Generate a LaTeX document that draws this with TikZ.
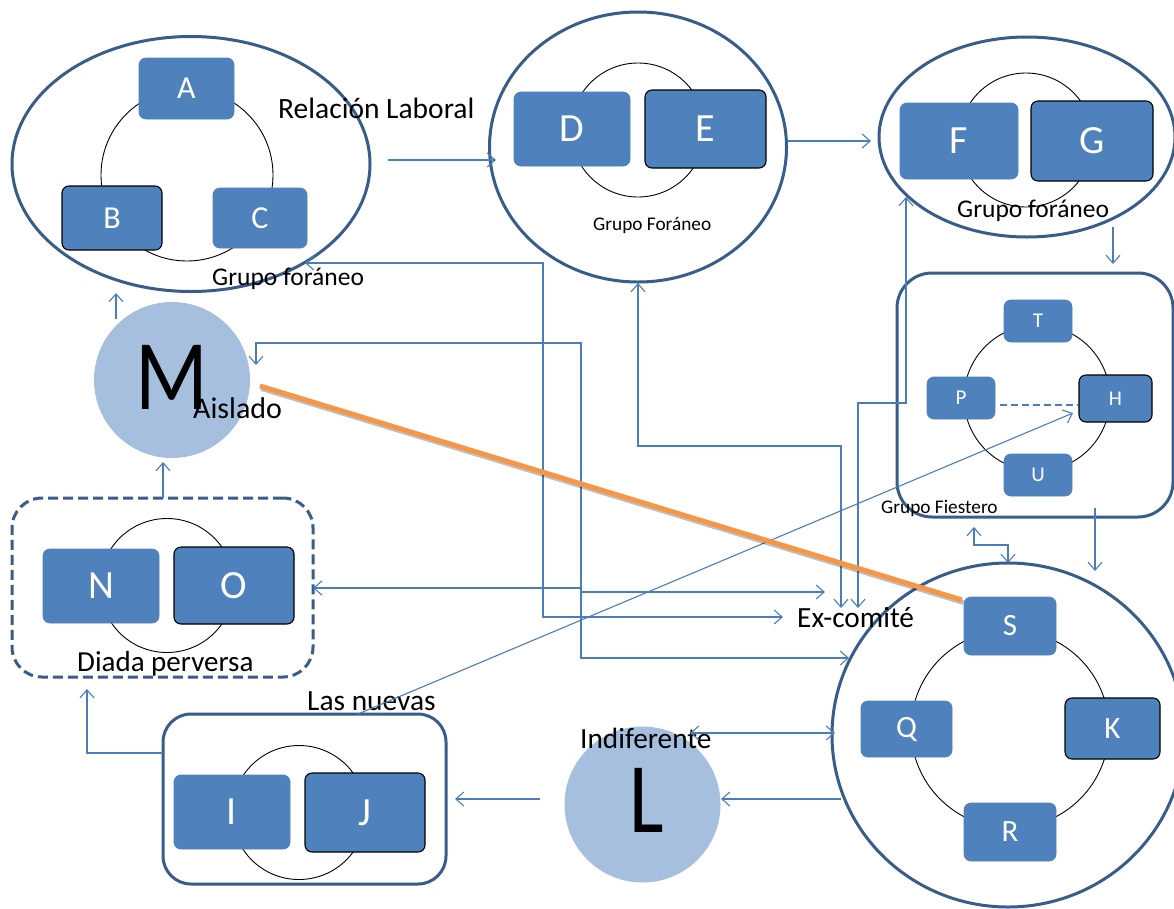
\documentclass[tikz,border=0pt]{standalone}
\usepackage{fontspec}
\usepackage{graphicx}
\setmainfont{Carlito}
\usetikzlibrary{arrows.meta,shapes.geometric}
\definecolor{boxblue}{RGB}{79,129,189}
\definecolor{darkborder}{RGB}{56,93,138}
\definecolor{linkblue}{RGB}{74,126,187}
\definecolor{paleblue}{RGB}{167,191,222}
\definecolor{orangeline}{RGB}{247,150,70}
\newcommand\myfs[1]{\fontsize{#1}{#1}\selectfont}
\tikzset{
  member/.style={draw=boxblue, fill=boxblue, rounded corners=7pt, text=white, inner sep=0pt, line width=0.8pt},
  memberb/.style={member, draw=black, line width=1.1pt},
  container/.style={draw=darkborder, line width=3pt, fill=white, inner sep=0pt},
  ring/.style={draw=black, line width=0.9pt},
  link/.style={draw=linkblue, line width=1.1pt, -{Straight Barb[length=8pt,width=14pt]}},
  dlink/.style={draw=linkblue, line width=1.1pt, {Straight Barb[length=8pt,width=14pt]}-{Straight Barb[length=8pt,width=14pt]}},
  lbl/.style={anchor=base west, inner sep=0pt, text=black},
  single/.style={fill=paleblue, circle, inner sep=0pt},
}
\begin{document}
\begin{tikzpicture}[x=1pt,y=-1pt]
\useasboundingbox (0,0) rectangle (1174,908);
\fill[white] (0,0) rectangle (1174,908);

% ---------- containers ----------
\node[container, ellipse, minimum width=358pt, minimum height=255pt] (gABC) at (191,164) {};
\node[container, ellipse, minimum width=297pt, minimum height=270pt] (gDE) at (638,147) {};
\node[container, ellipse, minimum width=296pt, minimum height=200pt] (gFG) at (1027,137) {};
\node[container, rounded corners=35pt, minimum width=276pt, minimum height=244pt] (gFi) at (1035,395) {};
\node[container, ellipse, minimum width=352pt, minimum height=344pt] (gS) at (1008,735) {};
\node[container, rounded corners=30pt, dash pattern=on 10pt off 5pt, minimum width=301pt, minimum height=179pt] (gNO) at (162.5,587.5) {};
\node[container, rounded corners=28pt, minimum width=283pt, minimum height=170pt] (gIJ) at (304.5,799) {};

% ---------- singles ----------
\node[single, minimum size=156pt] (cM) at (172,380) {};
\node[single, minimum size=156pt] (cL) at (642.5,804.5) {};

% ---------- rings ----------
\draw[ring] (187,175) circle[radius=86pt];
\draw[ring] (638,130) circle[radius=67pt];
\draw[ring] (1026,140) circle[radius=67pt];
\draw[ring] (1037,398) circle[radius=73pt];
\draw[ring] (1010,729) circle[radius=99pt];
\draw[ring] (167,585.5) circle[radius=67pt];
\draw[ring] (299,812.5) circle[radius=67pt];

% ---------- members ----------
\node[member,  minimum width=95pt,  minimum height=61pt, font=\myfs{32}] (A) at (186.5,88.5) {A};
\node[memberb, minimum width=100pt, minimum height=64pt, font=\myfs{32}] (B) at (112,218) {B};
\node[member,  minimum width=94pt,  minimum height=60pt, font=\myfs{32}] (C) at (260,218) {C};

\node[member,  minimum width=116pt, minimum height=74pt, font=\myfs{40}] (D) at (572,129) {D};
\node[memberb, minimum width=121pt, minimum height=78pt, font=\myfs{40}] (E) at (705.5,129) {E};

\node[member,  minimum width=118pt, minimum height=76pt, font=\myfs{40}] (F) at (959,141) {F};
\node[memberb, minimum width=122pt, minimum height=80pt, font=\myfs{40}] (G) at (1092,141) {G};

\node[member,  minimum width=68pt, minimum height=42pt, font=\myfs{21}] (T) at (1038,321) {T};
\node[member,  minimum width=68pt, minimum height=42pt, font=\myfs{21}] (P) at (961,398) {P};
\node[memberb, minimum width=73pt, minimum height=47pt, font=\myfs{21}] (H) at (1115.5,398.5) {H};
\node[member,  minimum width=68pt, minimum height=42pt, font=\myfs{21}] (U) at (1038,475) {U};

\node[member,  minimum width=92pt, minimum height=58pt, font=\myfs{31}] (S) at (1010,626) {S};
\node[member,  minimum width=91pt, minimum height=56pt, font=\myfs{31}] (Q) at (906.5,729) {Q};
\node[memberb, minimum width=95pt, minimum height=61pt, font=\myfs{31}] (K) at (1112.5,728.5) {K};
\node[member,  minimum width=92pt, minimum height=58pt, font=\myfs{31}] (R) at (1010,832) {R};

\node[member,  minimum width=116pt, minimum height=74pt, font=\myfs{40}] (N) at (101,586) {N};
\node[memberb, minimum width=120pt, minimum height=77pt, font=\myfs{40}] (O) at (234,585.5) {O};

\node[member,  minimum width=116pt, minimum height=74pt, font=\myfs{40}] (I) at (232,812) {I};
\node[memberb, minimum width=120pt, minimum height=79pt, font=\myfs{40}] (J) at (365,812.5) {J};

% ---------- big letters ----------
\node[inner sep=0pt, font=\myfs{100}] (Mletter) at (171.5,377.5) {\scalebox{0.85}[1]{M}};
\node[inner sep=0pt, font=\myfs{100}] (Lletter) at (647,800.5) {\scalebox{0.82}[1]{L}};

% ---------- labels ----------
\node[lbl, font=\myfs{29.5}] (tRel) at (278,118) {Relación Laboral};
\node[lbl, font=\myfs{25.5}] (tGf1) at (212,285) {Grupo foráneo};
\node[lbl, font=\myfs{19.3}] (tGf2) at (593,230) {Grupo Foráneo};
\node[lbl, font=\myfs{25.5}] (tGf3) at (957,217) {Grupo foráneo};
\node[lbl, font=\myfs{19.3}] (tFi) at (881,513) {Grupo Fiestero};
\node[lbl, font=\myfs{30}] (tAis) at (193,418) {Aislado};
\node[lbl, font=\myfs{29}] (tDia) at (77,671) {Diada perversa};
\node[lbl, font=\myfs{29.4}] (tNue) at (307,710) {Las nuevas};
\node[lbl, font=\myfs{29.3}] (tInd) at (580,748) {Indiferente};
\node[lbl, font=\myfs{29.3}] (tEx) at (797,627) {Ex-comité};

% ---------- connector coordinates ----------
\coordinate (r1) at (388,160);   \coordinate (r2) at (496,160);
\coordinate (d1) at (787,141);   \coordinate (d2) at (871,141);
\coordinate (f1) at (1113,227);  \coordinate (f2) at (1113,264);
\coordinate (p1) at (1095,508);  \coordinate (p2) at (1095,571);
\coordinate (s1) at (974,527);   \coordinate (s2) at (1008,563);
\coordinate (n1) at (358,714);   \coordinate (n2) at (1073,413);
\coordinate (a1) at (305,263);   \coordinate (a2) at (783,617);
\coordinate (m1) at (256,365);   \coordinate (m2) at (849,658);
\coordinate (o1) at (313,588);   \coordinate (o2) at (825,592);
\coordinate (e1) at (638,283);   \coordinate (e2) at (841,608);
\coordinate (g1) at (906,197);   \coordinate (g2) at (858,608);
\coordinate (ma1) at (116,319);  \coordinate (ma2) at (116,293);
\coordinate (dm1) at (163,498);  \coordinate (dm2) at (163,462);
\coordinate (ij1) at (163,753);  \coordinate (ij2) at (87,689);
\coordinate (l1) at (540,799);   \coordinate (l2) at (455,799);
\coordinate (i1) at (690,733);   \coordinate (i2) at (835,733);
\coordinate (sl1) at (841,799);  \coordinate (sl2) at (721,799);
\coordinate (ph1) at (1000,405); \coordinate (ph2) at (1078,405);
\coordinate (or1) at (260,386);  \coordinate (or2) at (962,600);

% ---------- connectors ----------
\draw[link] (r1) -- (r2);
\draw[link] (d1) -- (d2);
\draw[link] (f1) -- (f2);
\draw[link] (p1) -- (p2);
\draw[dlink] (s1) -- (974,545) -- (1008,545) -- (s2);
\draw[link] (n1) -- (n2);
\draw[dlink] (a1) -- (543,263) -- (543,617) -- (a2);
\draw[dlink] (m1) -- (256,343) -- (581,343) -- (581,658) -- (m2);
\draw[dlink] (o1) -- (581,588) -- (581,592) -- (o2);
\draw[dlink] (e1) -- (638,446) -- (841,446) -- (e2);
\draw[dlink] (g1) -- (906,403) -- (858,403) -- (g2);
\draw[link] (ma1) -- (ma2);
\draw[link] (dm1) -- (dm2);
\draw[link] (ij1) -- (87,753) -- (ij2);
\draw[link] (l1) -- (l2);
\draw[dlink] (i1) -- (i2);
\draw[link] (sl1) -- (sl2);
\draw[draw=linkblue, line width=1.6pt, dash pattern=on 7pt off 4pt] (ph1) -- (ph2);

% ---------- orange line ----------
\draw[black, opacity=0.25, line width=5pt] ([shift={(1.5,2.5)}]or1) -- ([shift={(1.5,2.5)}]or2);
\draw[orangeline, line width=5pt] (or1) -- (or2);
\end{tikzpicture}
\end{document}
